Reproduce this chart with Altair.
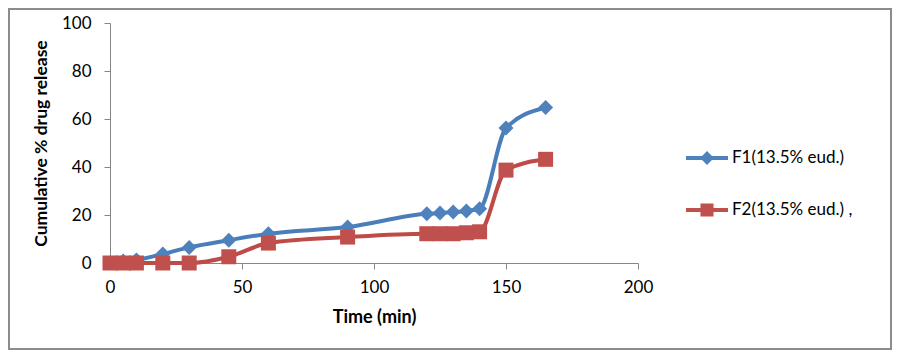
import altair as alt
import pandas as pd

# ---- data ----
time_min = [0, 5, 10, 20, 30, 45, 60, 90, 120, 125, 130, 135, 140, 150, 165]
f1_release = [0.0, 0.8, 1.3, 3.8, 6.5, 9.5, 12.2, 15.0, 20.5, 20.8, 21.2, 21.7, 22.6, 56.2, 64.8]
f2_release = [0.0, 0.0, 0.0, 0.0, 0.0, 2.6, 8.3, 10.8, 12.2, 12.2, 12.2, 12.6, 13.0, 38.7, 43.2]
series_names = ["F1(13.5% eud.)", "F2(13.5% eud.) ,"]
x_ticks = [0, 50, 100, 150, 200]
y_ticks = [0, 20, 40, 60, 80, 100]

rows = []
for name, vals in zip(series_names, [f1_release, f2_release]):
    for t, v in zip(time_min, vals):
        rows.append({"time": t, "release": v, "series": name})
df = pd.DataFrame(rows)

W, H = 528, 240
line_colors = ["#4A7EBB", "#BE4B48"]
fill_colors = ["#4F81BD", "#C0504D"]

# legend symbols: a line with a marker in the middle (unit box -1..1)
leg_blue = "M-1,-0.095 L1,-0.095 L1,0.095 L-1,0.095 Z M0,-0.33 L0.33,0 L0,0.33 L-0.33,0 Z"
leg_red = "M-1,-0.095 L1,-0.095 L1,0.095 L-1,0.095 Z M-0.31,-0.31 L0.31,-0.31 L0.31,0.31 L-0.31,0.31 Z"

x = alt.X("time:Q",
          scale=alt.Scale(domain=[0, 200], nice=False, zero=False),
          axis=alt.Axis(values=x_ticks, title="Time (min)", labelPadding=10,
                        titlePadding=13, labelFlush=False))
y = alt.Y("release:Q",
          scale=alt.Scale(domain=[0, 100], nice=False),
          axis=alt.Axis(values=y_ticks, title="Cumulative % drug release",
                        labelPadding=13, titlePadding=11, titleFontSize=17.5,
                        labelFlush=False))

lines = alt.Chart(df).mark_line(interpolate="monotone", strokeWidth=4).encode(
    x=x, y=y,
    color=alt.Color("series:N", scale=alt.Scale(domain=series_names, range=line_colors), legend=None),
)

points = alt.Chart(df).mark_point(filled=True, size=225, opacity=1).encode(
    x=x, y=y,
    color=alt.Color("series:N", scale=alt.Scale(domain=series_names, range=fill_colors), legend=None),
    shape=alt.Shape("series:N", scale=alt.Scale(domain=series_names, range=["diamond", "square"]), legend=None),
)

legend_props = dict(
    orient="none", legendX=576, legendY=114, title=None,
    symbolSize=1764, symbolStrokeWidth=0, symbolOpacity=1,
    labelFont="Lato", labelFontSize=17, labelColor="#000000",
    labelOffset=4, rowPadding=23, padding=0,
    labelExpr="datum.label == 'F2(13.5% eud.) ,' ? '\u00a0\u00a0' + datum.label : datum.label",
)

legend_layer = alt.Chart(df).mark_point(filled=True, opacity=0).encode(
    x=x, y=y,
    color=alt.Color("series:N", scale=alt.Scale(domain=series_names, range=fill_colors),
                    legend=alt.Legend(**legend_props)),
    shape=alt.Shape("series:N", scale=alt.Scale(domain=series_names, range=[leg_blue, leg_red]),
                    legend=alt.Legend(**legend_props)),
)

frame = alt.Chart(pd.DataFrame({"k": [0]})).mark_rect(
    filled=False, stroke="#8C8C8C", strokeWidth=2
).encode(
    x=alt.value(-101), x2=alt.value(W + 253),
    y=alt.value(-14), y2=alt.value(H + 86),
)

chart = alt.layer(frame, lines, points, legend_layer).resolve_scale(
    color="independent", shape="independent"
).properties(
    width=W, height=H,
    padding={"left": 102, "top": 15, "right": 254, "bottom": 87},
    autosize="none",
    background="#FFFFFF",
).configure_view(stroke=None).configure_axis(
    grid=False,
    domainColor="#868686", tickColor="#868686", domainWidth=1, tickWidth=1, tickSize=6,
    labelFont="Lato", labelFontSize=17, labelColor="#000000",
    titleFont="Lato", titleFontWeight="bold", titleFontSize=18, titleColor="#000000",
)

chart.save("out.html", embed_options={"renderer": "svg", "actions": False})
